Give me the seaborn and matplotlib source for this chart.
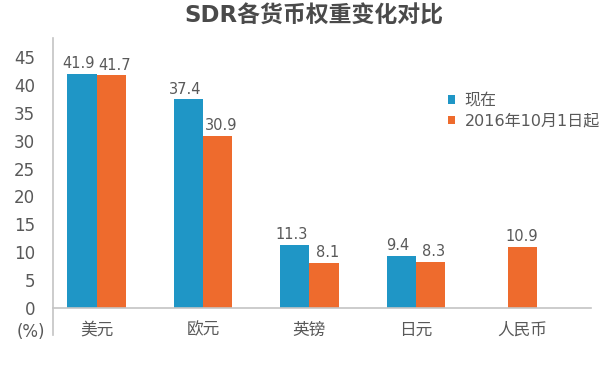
import pandas as pd
import matplotlib
matplotlib.use("Agg")
import matplotlib.pyplot as plt
import seaborn as sns
from matplotlib.patches import Patch
from matplotlib.ticker import FixedLocator

# ------------------------------
# Data
# ------------------------------
categories = ['美元', '欧元', '英镑', '日元', '人民币']
series_names = ['现在', '2016年10月1日起']
now_vals = [41.9, 37.4, 11.3, 9.4, None]
new_vals = [41.7, 30.9, 8.1, 8.3, 10.9]
y_ticks = [0, 5, 10, 15, 20, 25, 30, 35, 40, 45]

colors = ['#1f96c6', '#ee6b2d']
text_color = '#595959'
axis_color = '#c4c4c4'

df = pd.DataFrame({
    '货币': categories * 2,
    '系列': [series_names[0]] * len(categories) + [series_names[1]] * len(categories),
    '权重': now_vals + new_vals,
}).dropna()
counts = df.groupby('货币')['权重'].transform('count')
paired = df[counts == 2]
single = df[counts == 1]

# ------------------------------
# Plot
# ------------------------------
sns.set_style("white")
plt.rcParams['font.family'] = ['DejaVu Sans', 'Noto Sans CJK SC']

fig = plt.figure(figsize=(6.07, 3.75), dpi=100)
ax = fig.add_axes([0.0873, 0.107, 0.887, 0.792])

sns.barplot(data=paired, x='货币', y='权重', hue='系列', order=categories,
            hue_order=series_names, palette=colors, width=0.55, gap=0,
            saturation=1, errorbar=None, legend=False, linewidth=0, ax=ax)
n_paired = len(ax.containers)
sns.barplot(data=single, x='货币', y='权重', hue='系列', order=categories,
            hue_order=series_names, palette=colors, width=0.275, dodge=False,
            saturation=1, errorbar=None, legend=False, linewidth=0, ax=ax)

# value labels; paired labels nudged apart a little like the original
for i, c in enumerate(ax.containers):
    labels = ax.bar_label(c, fmt='{:.1f}', padding=2, fontsize=10.5,
                          color=text_color)
    if i < n_paired:
        dx = -2.5 if i == 0 else 2.5
        for t in labels:
            t.xyann = (dx, 2)

ax.set_xlim(-0.41, 4.65)
ax.set_ylim(-4.8, 48.4)
ax.set_yticks(y_ticks)
ax.set_xlabel('')
ax.set_ylabel('')

# axes styling
for side in ['top', 'right']:
    ax.spines[side].set_visible(False)
ax.spines['bottom'].set_position(('data', 0))
for side in ['left', 'bottom']:
    ax.spines[side].set_color(axis_color)
    ax.spines[side].set_linewidth(1.2)

ax.tick_params(axis='y', direction='out', length=5, width=1, color=axis_color,
               labelsize=12, labelcolor=text_color, pad=8)
ax.tick_params(axis='x', which='major', length=0, labelsize=12,
               labelcolor=text_color, pad=9)
ax.xaxis.set_minor_locator(FixedLocator([0.5, 1.5, 2.5, 3.5, 4.5]))
ax.tick_params(axis='x', which='minor', direction='out', length=7, width=1,
               color=axis_color)

ax.text(-0.015, 0.01, '(%)', transform=ax.transAxes, ha='right', va='center',
        fontsize=12, color=text_color)

handles = [Patch(facecolor=col, edgecolor='none') for col in colors]
fig.legend(handles, series_names, loc='upper left',
           bbox_to_anchor=(440 / 607, 1 - 85 / 375), frameon=False,
           fontsize=11.5, handlelength=0.45, handleheight=0.45,
           handletextpad=0.6, labelspacing=0.35, borderpad=0,
           labelcolor=text_color)

fig.suptitle('SDR各货币权重变化对比', x=314 / 607, y=1 - 16 / 375, va='center',
             fontsize=16.5, fontweight='bold', color='#4a4a4a')

fig.savefig('out.png', dpi=100)
